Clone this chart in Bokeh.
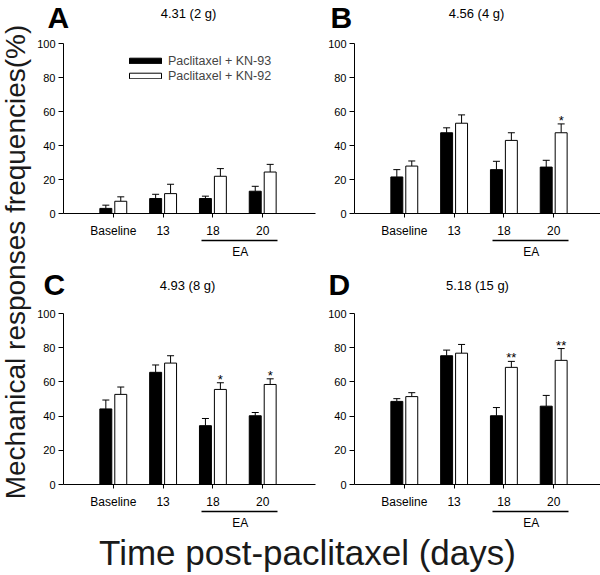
from bokeh.plotting import figure
from bokeh.models import (Range1d, FixedTicker, LinearAxis, Whisker,
                          TeeHead, ColumnDataSource)
from bokeh.layouts import row, column
from bokeh.core.properties import value
from bokeh.embed import file_html
from bokeh.resources import INLINE

FONT = "Liberation Sans"

# categories (days post-paclitaxel)
days = [1, 2, 3, 4]
day_labels = ["Baseline", "13", "18", "20"]

# mechanical response frequencies (%), mean and SEM
kn93_a = [3.0, 8.8, 8.8, 13.1]
kn93_a_err = [1.9, 2.5, 1.4, 2.9]
kn92_a = [7.2, 11.7, 21.9, 24.4]
kn92_a_err = [2.6, 5.5, 4.5, 4.5]

kn93_b = [21.5, 47.5, 25.8, 27.3]
kn93_b_err = [4.3, 2.9, 4.9, 4.0]
kn92_b = [27.9, 53.1, 43.0, 47.5]
kn92_b_err = [3.0, 4.9, 4.5, 5.2]

kn93_c = [44.2, 65.6, 34.4, 40.2]
kn93_c_err = [5.2, 4.3, 4.2, 1.9]
kn92_c = [52.7, 71.0, 55.6, 58.5]
kn92_c_err = [4.3, 4.3, 3.9, 3.3]

kn93_d = [48.6, 75.3, 40.2, 45.8]
kn93_d_err = [1.6, 3.3, 4.8, 6.3]
kn92_d = [51.4, 76.8, 68.5, 72.6]
kn92_d_err = [2.3, 5.1, 3.5, 6.9]

stars_a = ["", "", "", ""]
stars_b = ["", "", "", "*"]
stars_c = ["", "", "*", "*"]
stars_d = ["", "", "**", "**"]

# panel headers: letter and threshold force
letters = ["A", "B", "C", "D"]
subtitles = ["4.31 (2 g)", "4.56 (4 g)", "4.93 (8 g)", "5.18 (15 g)"]


def blank(w, h, xr, yr):
    f = figure(width=w, height=h, x_range=Range1d(*xr), y_range=Range1d(*yr),
               x_axis_type=None, y_axis_type=None, min_border=0, title=None,
               output_backend="svg", toolbar_location=None)
    f.outline_line_color = None
    f.grid.grid_line_color = None
    return f


def header(h, y0, y1, lx, ly, sx, sy, idx):
    # pixel ranges, y flipped so that the numbers read as page coordinates
    f = blank(566, h, (34, 600), (y1, y0))
    f.text(x=lx, y=[ly, ly], text=[letters[i] for i in idx], text_align="left",
           text_baseline="alphabetic", text_font=value(FONT),
           text_font_size="30px", text_font_style="bold", text_color="black")
    f.text(x=sx, y=[sy, sy], text=[subtitles[i] for i in idx], text_align="center",
           text_baseline="alphabetic", text_font=value(FONT),
           text_font_size="13px", text_color="black")
    return f


def panel(v93, e93, v92, e92, stars, w, h, bottom, right, legend=False):
    frame_w = w - 28 - right
    p = figure(width=w, height=h, x_range=Range1d(0, frame_w / 50.0),
               y_range=Range1d(0, 100), title=None,
               min_border_left=28, min_border_right=right,
               min_border_top=8, min_border_bottom=bottom,
               output_backend="svg", toolbar_location=None)
    p.xgrid.grid_line_color = None
    p.ygrid.grid_line_color = None
    p.outline_line_color = None

    src = ColumnDataSource(dict(
        x93=[d - 0.15 for d in days], v93=v93,
        up93=[a + b for a, b in zip(v93, e93)],
        x92=[d + 0.15 for d in days], v92=v92,
        up92=[a + b for a, b in zip(v92, e92)],
        ystar=[a + b + 2.0 for a, b in zip(v92, e92)], star=stars))

    kw93 = dict(legend_label="Paclitaxel + KN-93") if legend else {}
    kw92 = dict(legend_label="Paclitaxel + KN-92") if legend else {}
    p.vbar(x="x93", top="v93", width=0.24, source=src, fill_color="black",
           line_color="black", line_width=1, **kw93)
    p.vbar(x="x92", top="v92", width=0.24, source=src, fill_color="white",
           line_color="black", line_width=1, **kw92)

    for base, lo, up in (("x93", "v93", "up93"), ("x92", "v92", "up92")):
        p.add_layout(Whisker(source=src, base=base, lower=lo, upper=up,
                             dimension="height", lower_head=None,
                             upper_head=TeeHead(size=7, line_color="black", line_width=1),
                             line_color="black", line_width=1))

    p.text(x="x92", y="ystar", text="star", source=src, text_align="center",
           text_baseline="alphabetic", text_font=value(FONT),
           text_font_size="13px", text_color="black")

    # axes
    p.yaxis.ticker = FixedTicker(ticks=[0, 20, 40, 60, 80, 100])
    p.yaxis.major_tick_out = 5
    p.yaxis.major_tick_in = 0
    p.yaxis.minor_tick_out = 0
    p.yaxis.minor_tick_in = 0
    p.yaxis.major_label_standoff = 3
    p.yaxis.major_label_text_font = FONT
    p.yaxis.major_label_text_font_size = "11px"
    p.yaxis.major_label_text_color = "black"
    p.yaxis.axis_line_color = "black"

    xa = p.xaxis[0]
    xa.ticker = FixedTicker(ticks=days)
    xa.major_label_overrides = {d: lab for d, lab in zip(days, day_labels)}
    xa.major_tick_out = 4
    xa.major_tick_in = 0
    xa.minor_tick_out = 0
    xa.minor_tick_in = 0
    xa.major_label_standoff = 6
    xa.major_label_text_font = FONT
    xa.major_label_text_font_size = "12px"
    xa.major_label_text_color = "black"
    xa.axis_line_color = "black"

    ea = LinearAxis(ticker=FixedTicker(ticks=[3.55]), bounds=(2.78, 4.3),
                    major_label_overrides={3.55: "EA"},
                    major_tick_out=0, major_tick_in=0,
                    minor_tick_out=0, minor_tick_in=0,
                    axis_line_width=1.6, axis_line_color="black",
                    major_label_standoff=4,
                    major_label_text_font=FONT,
                    major_label_text_font_size="12px",
                    major_label_text_color="black")
    p.add_layout(ea, "below")

    if legend:
        lg = p.legend[0]
        lg.location = (62, 130)
        lg.padding = 0
        lg.margin = 0
        lg.spacing = 0
        lg.glyph_width = 40
        lg.glyph_height = 7
        lg.label_height = 15
        lg.label_standoff = 3
        lg.label_text_font = FONT
        lg.label_text_font_size = "12.5px"
        lg.border_line_color = None
        lg.background_fill_alpha = 0
    return p


head_ab = header(35, 0, 35, [47, 330], 16.5, [188, 476], 12.5, [0, 1])
pa = panel(kn93_a, kn93_a_err, kn92_a, kn92_a_err, stars_a, 291, 227, 49, 10, legend=True)
pb = panel(kn93_b, kn93_b_err, kn92_b, kn92_b_err, stars_b, 275, 227, 49, 0)
head_cd = header(43, 262, 305, [43, 328], 283.5, [187, 477], 284.5, [2, 3])
pc = panel(kn93_c, kn93_c_err, kn92_c, kn92_c_err, stars_c, 291, 227, 46, 10)
pd = panel(kn93_d, kn93_d_err, kn92_d, kn92_d_err, stars_d, 275, 227, 46, 0)

# shared y label
ylab = blank(34, 532, (0, 34), (0, 532))
ylab.text(x=[15], y=[270.5], text=["Mechanical responses frequencies(%)"],
          angle=1.5708, text_align="center", text_baseline="alphabetic",
          text_font=value(FONT), text_font_size="28px", text_color="#1a1a1a")

# shared x label
xlab = blank(600, 43, (0, 600), (0, 43))
xlab.text(x=[307], y=[23], text=["Time post-paclitaxel (days)"],
          text_align="center", text_baseline="alphabetic",
          text_font=value(FONT), text_font_size="35px", text_color="#1a1a1a")

layout = column(row(ylab, column(head_ab, row(pa, pb), head_cd, row(pc, pd))), xlab)

open("out.html", "w").write(file_html(layout, INLINE))
